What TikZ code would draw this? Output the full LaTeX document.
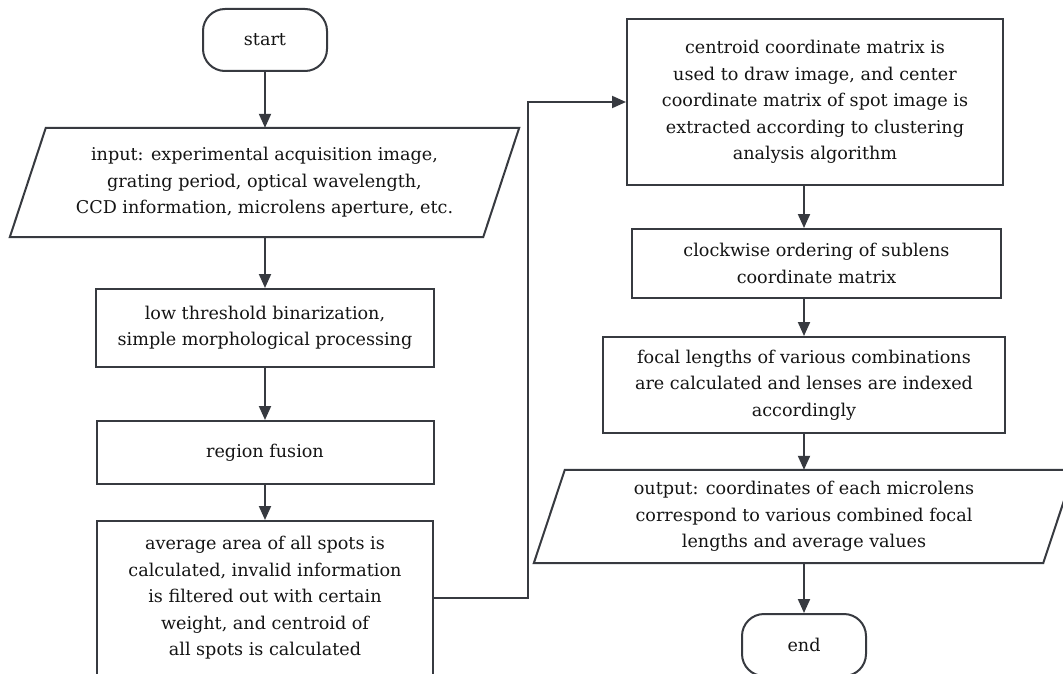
\documentclass[tikz,border=0pt]{standalone}
\usepackage{fontspec}
\setmainfont{DejaVu Serif}
\usetikzlibrary{arrows.meta}
\definecolor{lc}{RGB}{55,58,64}
\definecolor{tc}{RGB}{20,20,20}
\newcommand\dfont{\fontsize{17.6}{26.5}\selectfont}
\begin{document}
\begin{tikzpicture}[x=1pt,y=-1pt,
  ln/.style={draw=lc, line width=2pt},
  box/.style={ln, rectangle, align=center, font=\dfont, text=tc, inner sep=0pt},
  ghost/.style={rectangle, align=center, font=\dfont, text=tc, inner sep=0pt},
  arr/.style={draw=lc, line width=2pt, -{Triangle[length=14pt,width=12pt]}}]
\useasboundingbox (0,0) rectangle (1063,674);
\clip (0,0) rectangle (1063,674);
\fill[white] (0,0) rectangle (1063,674);
% left column
\node[box, minimum width=124pt, minimum height=62pt, rounded corners=22pt] (start) at (265,40) {start};
\node[ghost, minimum width=509pt, minimum height=109pt] (in) at (264.5,182.5)
  {input: experimental acquisition image,\\grating period, optical wavelength,\\CCD information, microlens aperture, etc.};
\draw[ln] ([xshift=36pt]in.north west) -- (in.north east) -- ([xshift=-36pt]in.south east) -- (in.south west) -- cycle;
\node[box, minimum width=338pt, minimum height=78pt] (low) at (265,328)
  {low threshold binarization,\\simple morphological processing};
\node[box, minimum width=337pt, minimum height=63pt] (reg) at (265,452.5) {region fusion};
\node[box, minimum width=336pt, minimum height=154pt] (avg) at (265,598)
  {average area of all spots is\\calculated, invalid information\\is filtered out with certain\\weight, and centroid of\\all spots is calculated};
% right column
\node[box, minimum width=376pt, minimum height=166pt] (cen) at (815,102)
  {centroid coordinate matrix is\\used to draw image, and center\\coordinate matrix of spot image is\\extracted according to clustering\\analysis algorithm};
\node[box, minimum width=369pt, minimum height=69pt] (clk) at (816.5,263.5)
  {clockwise ordering of sublens\\coordinate matrix};
\node[box, minimum width=402pt, minimum height=96pt] (foc) at (804,385)
  {focal lengths of various combinations\\are calculated and lenses are indexed\\accordingly};
\node[ghost, minimum width=540pt, minimum height=93pt] (out) at (804,516.5)
  {output: coordinates of each microlens\\correspond to various combined focal\\lengths and average values};
\draw[ln] ([xshift=31pt]out.north west) -- (out.north east) -- ([xshift=-31pt]out.south east) -- (out.south west) -- cycle;
\node[box, minimum width=124pt, minimum height=62pt, rounded corners=22pt] (end) at (804,645) {end};
% connectors
\draw[arr] (start.south) -- (in.north -| start.south);
\draw[arr] (in.south -| start.south) -- (low.north);
\draw[arr] (low.south) -- (reg.north);
\draw[arr] (reg.south) -- (avg.north);
\draw[arr] (avg.east) -- ++(94,0) |- (cen.west);
\draw[arr] (cen.south -| end.north) -- (clk.north -| end.north);
\draw[arr] (clk.south -| end.north) -- (foc.north);
\draw[arr] (foc.south) -- (out.north);
\draw[arr] (out.south) -- (end.north);
\end{tikzpicture}
\end{document}
